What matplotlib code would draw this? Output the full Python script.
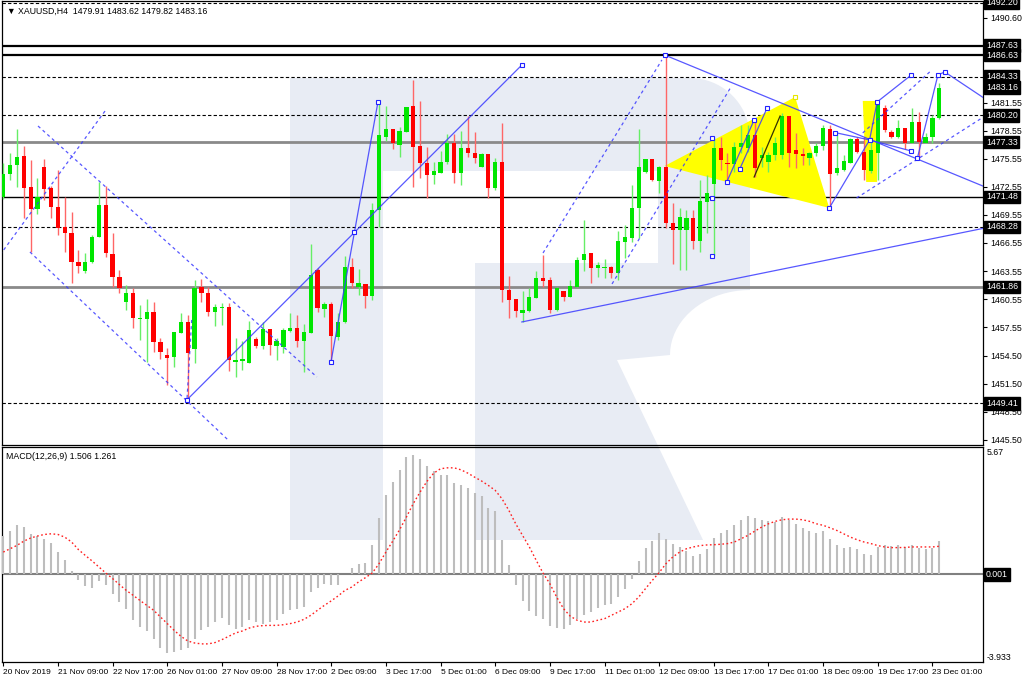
import matplotlib
matplotlib.use("Agg")
import matplotlib.pyplot as plt
from matplotlib.patches import Polygon, Rectangle
import numpy as np

plt.rcParams['font.family'] = ['Liberation Sans', 'DejaVu Sans']

# ---------------- data ----------------
opens = [
1471.47, 1473.92, 1474.89, 1475.85, 1472.54, 1470.18, 1474.67, 1472.43, 1470.40, 1468.26,
1467.62, 1464.52, 1463.56, 1464.52, 1467.19, 1470.61, 1465.38, 1462.92, 1460.25, 1461.21,
1458.43, 1458.43, 1459.18, 1455.97, 1454.58, 1454.37, 1456.93, 1458.11, 1455.22, 1461.85,
1461.21, 1459.18, 1459.60, 1459.71, 1453.83, 1453.94, 1453.73, 1456.29, 1455.54, 1457.36,
1455.54, 1455.44, 1457.15, 1457.47, 1456.08, 1456.93, 1463.67, 1459.50, 1460.03, 1456.51,
1458.11, 1463.99, 1461.85, 1462.17, 1460.89, 1470.08, 1477.88, 1478.73, 1477.02, 1478.41,
1481.19, 1476.92, 1475.10, 1473.82, 1474.03, 1475.21, 1477.24, 1474.03, 1476.70, 1476.17,
1474.67, 1476.06, 1472.43, 1475.21, 1461.53, 1460.57, 1459.07, 1459.28, 1460.67, 1462.81,
1462.60, 1459.39, 1461.42, 1460.78, 1461.85, 1464.73, 1465.48, 1463.88, 1463.88, 1463.99,
1463.34, 1466.66, 1467.08, 1470.29, 1474.14, 1475.53, 1473.18, 1474.67, 1468.69, 1467.94,
1467.94, 1469.22, 1466.76, 1470.93, 1472.86, 1476.70, 1475.10, 1474.99, 1476.81, 1476.70,
1478.09, 1475.63, 1475.21, 1475.96, 1475.96, 1480.12, 1476.49, 1476.06, 1475.63, 1476.17,
1476.92, 1478.73, 1474.03, 1474.35, 1475.10, 1477.66, 1476.28, 1474.25, 1476.17, 1480.98,
1478.41, 1477.88, 1478.84, 1477.24, 1479.48, 1477.24, 1477.88, 1479.91]
highs = [
1475.10, 1476.17, 1478.73, 1476.92, 1475.42, 1473.50, 1475.53, 1472.64, 1474.35, 1471.47,
1469.86, 1465.80, 1465.48, 1467.41, 1473.07, 1472.64, 1467.62, 1463.67, 1462.06, 1461.74,
1459.92, 1460.57, 1460.25, 1456.40, 1455.33, 1457.04, 1459.07, 1458.86, 1462.60, 1462.70,
1461.85, 1460.03, 1460.14, 1460.14, 1456.40, 1456.08, 1458.21, 1456.51, 1458.11, 1457.36,
1456.40, 1457.47, 1459.07, 1458.86, 1457.89, 1466.44, 1463.88, 1460.25, 1460.25, 1459.07,
1465.16, 1464.95, 1463.77, 1462.17, 1470.83, 1481.62, 1481.19, 1478.73, 1478.95, 1481.09,
1483.97, 1481.73, 1476.81, 1475.21, 1476.38, 1478.20, 1478.20, 1478.52, 1480.12, 1478.41,
1476.17, 1476.06, 1475.63, 1479.37, 1463.02, 1460.57, 1461.42, 1461.74, 1463.56, 1465.27,
1462.92, 1461.85, 1461.42, 1462.60, 1465.05, 1469.01, 1465.48, 1464.52, 1464.84, 1464.09,
1467.83, 1468.47, 1472.75, 1478.73, 1475.53, 1475.53, 1474.78, 1486.63, 1470.83, 1470.29,
1470.08, 1470.08, 1473.28, 1473.82, 1477.88, 1477.88, 1476.17, 1477.34, 1479.16, 1479.16,
1479.70, 1476.81, 1476.28, 1477.88, 1480.44, 1480.12, 1478.31, 1476.70, 1476.28, 1477.24,
1479.16, 1479.16, 1478.31, 1475.96, 1477.77, 1477.88, 1477.88, 1477.88, 1481.83, 1481.30,
1478.63, 1479.70, 1478.84, 1480.98, 1480.55, 1478.31, 1480.23, 1483.62]
lows = [
1471.30, 1473.28, 1472.54, 1469.22, 1465.59, 1469.65, 1471.15, 1469.22, 1467.41, 1465.59,
1462.28, 1463.34, 1463.34, 1464.41, 1467.19, 1465.05, 1461.85, 1461.21, 1459.39, 1457.47,
1456.18, 1453.83, 1454.90, 1454.15, 1451.38, 1453.30, 1456.93, 1449.45, 1453.73, 1460.25,
1458.75, 1457.68, 1457.79, 1452.87, 1452.23, 1452.98, 1453.73, 1455.33, 1455.22, 1454.58,
1454.05, 1454.79, 1457.04, 1455.44, 1452.76, 1456.93, 1459.18, 1458.64, 1453.83, 1456.18,
1458.00, 1461.74, 1460.99, 1459.60, 1460.46, 1468.26, 1477.45, 1476.60, 1475.74, 1478.41,
1472.54, 1473.50, 1471.36, 1472.86, 1474.03, 1474.99, 1472.96, 1472.75, 1475.74, 1475.10,
1474.67, 1471.36, 1472.21, 1460.25, 1458.54, 1458.64, 1458.10, 1459.18, 1460.67, 1461.85,
1459.07, 1459.28, 1460.35, 1460.78, 1461.85, 1463.56, 1462.28, 1462.92, 1462.81, 1462.81,
1462.60, 1464.95, 1466.66, 1467.08, 1474.03, 1473.18, 1471.89, 1468.15, 1464.31, 1463.67,
1463.67, 1465.91, 1465.59, 1467.62, 1465.16, 1474.35, 1473.28, 1474.14, 1476.17, 1476.28,
1473.60, 1474.67, 1474.14, 1475.42, 1475.53, 1474.67, 1474.57, 1474.89, 1474.89, 1475.85,
1476.49, 1470.40, 1473.82, 1474.25, 1475.10, 1476.17, 1473.28, 1474.03, 1473.28, 1478.41,
1477.77, 1477.77, 1476.60, 1477.24, 1475.63, 1477.24, 1477.24, 1479.82]
closes = [
1473.92, 1474.89, 1475.74, 1472.43, 1470.18, 1471.47, 1472.32, 1470.40, 1468.15, 1467.62,
1464.52, 1464.09, 1464.52, 1467.19, 1470.61, 1465.48, 1462.92, 1461.74, 1461.21, 1458.54,
1458.54, 1459.18, 1455.97, 1454.90, 1454.26, 1457.04, 1458.11, 1454.79, 1461.74, 1461.21,
1459.18, 1459.71, 1459.71, 1454.05, 1454.05, 1454.15, 1457.25, 1455.54, 1457.36, 1455.65,
1456.08, 1457.25, 1457.47, 1456.08, 1457.04, 1463.13, 1459.60, 1460.03, 1456.61, 1458.11,
1463.99, 1462.28, 1462.28, 1460.89, 1470.08, 1478.09, 1478.73, 1477.24, 1478.52, 1481.09,
1476.81, 1475.10, 1473.82, 1474.25, 1475.21, 1477.24, 1474.03, 1476.70, 1476.17, 1475.63,
1476.06, 1472.43, 1475.21, 1461.53, 1460.46, 1459.28, 1459.39, 1460.78, 1462.81, 1462.49,
1459.39, 1461.74, 1460.78, 1461.96, 1464.73, 1465.38, 1463.88, 1464.20, 1463.99, 1463.34,
1466.76, 1467.19, 1470.29, 1474.67, 1475.53, 1473.28, 1474.67, 1468.69, 1467.94, 1469.33,
1469.22, 1466.76, 1471.04, 1471.89, 1476.70, 1475.42, 1474.99, 1476.81, 1477.24, 1478.09,
1474.57, 1475.96, 1475.96, 1477.24, 1480.12, 1476.17, 1476.06, 1475.85, 1476.17, 1476.92,
1478.84, 1473.92, 1474.57, 1475.31, 1477.66, 1476.28, 1474.35, 1476.49, 1481.62, 1478.63,
1477.88, 1478.84, 1477.24, 1479.48, 1477.34, 1477.88, 1479.91, 1483.16]

macd_hist = [
1.70, 1.94, 2.20, 2.12, 1.82, 1.70, 1.60, 1.40, 1.00, 0.66,
0.13, -0.24, -0.54, -0.60, -0.30, -0.49, -0.90, -1.24, -1.57, -2.03,
-2.36, -2.54, -2.88, -3.29, -3.53, -3.48, -3.38, -3.29, -2.88, -2.51,
-2.36, -2.14, -1.94, -2.29, -2.44, -2.36, -2.03, -2.14, -2.21, -2.14,
-2.03, -1.79, -1.61, -1.54, -1.46, -0.79, -0.60, -0.42, -0.49, -0.47,
0.02, 0.28, 0.48, 0.52, 1.33, 2.54, 3.54, 4.14, 4.69, 5.26,
5.34, 5.16, 4.86, 4.62, 4.44, 4.47, 4.10, 4.02, 3.87, 3.65,
3.50, 2.99, 2.84, 1.55, 0.43, -0.49, -1.20, -1.64, -1.87, -2.02,
-2.33, -2.41, -2.47, -2.29, -2.02, -1.84, -1.69, -1.51, -1.39, -1.32,
-1.02, -0.67, -0.19, 0.58, 1.18, 1.49, 1.85, 1.60, 1.38, 1.23,
1.05, 0.81, 0.93, 1.15, 1.63, 1.85, 2.00, 2.23, 2.42, 2.63,
2.54, 2.45, 2.39, 2.35, 2.59, 2.45, 2.27, 2.08, 1.93, 1.85,
1.93, 1.58, 1.33, 1.18, 1.23, 1.15, 0.93, 0.88, 1.23, 1.33,
1.26, 1.33, 1.23, 1.33, 1.18, 1.14, 1.20, 1.51]
macd_signal = [
1.00, 1.15, 1.30, 1.49, 1.63, 1.72, 1.79, 1.82, 1.79, 1.67,
1.45, 1.11, 0.85, 0.60, 0.33, 0.06, -0.19, -0.46, -0.72, -0.94,
-1.17, -1.39, -1.61, -1.91, -2.21, -2.51, -2.78, -2.99, -3.08, -3.12,
-3.12, -3.06, -2.93, -2.78, -2.63, -2.54, -2.41, -2.33, -2.30, -2.29,
-2.29, -2.26, -2.21, -2.14, -2.02, -1.84, -1.61, -1.39, -1.19, -0.97,
-0.72, -0.57, -0.34, -0.15, 0.06, 0.48, 1.00, 1.49, 2.00, 2.57,
3.17, 3.69, 4.17, 4.54, 4.74, 4.78, 4.78, 4.69, 4.54, 4.36,
4.19, 3.99, 3.77, 3.39, 2.87, 2.27, 1.75, 1.23, 0.63, 0.06,
-0.42, -1.02, -1.54, -1.88, -2.06, -2.14, -2.14, -2.06, -1.99, -1.84,
-1.69, -1.54, -1.32, -1.02, -0.64, -0.27, 0.08, 0.48, 0.78, 1.00,
1.15, 1.23, 1.29, 1.32, 1.33, 1.35, 1.38, 1.45, 1.60, 1.75,
1.94, 2.12, 2.27, 2.38, 2.45, 2.48, 2.48, 2.45, 2.38, 2.27,
2.20, 2.09, 1.97, 1.82, 1.67, 1.55, 1.45, 1.38, 1.29, 1.23,
1.20, 1.20, 1.21, 1.23, 1.23, 1.23, 1.23, 1.26]

time_labels = ["20 Nov 2019", "21 Nov 09:00", "22 Nov 17:00", "26 Nov 01:00", "27 Nov 09:00",
               "28 Nov 17:00", "2 Dec 09:00", "3 Dec 17:00", "5 Dec 01:00", "6 Dec 09:00",
               "9 Dec 17:00", "11 Dec 01:00", "12 Dec 09:00", "13 Dec 17:00", "17 Dec 01:00",
               "18 Dec 09:00", "19 Dec 17:00", "23 Dec 01:00"]
label_step = 8

price_ticks = [1490.60, 1481.55, 1478.55, 1475.55, 1472.55, 1469.55, 1466.55, 1463.55,
               1460.55, 1457.55, 1454.50, 1451.50, 1448.50, 1445.50]
boxed_levels = [1492.20, 1487.63, 1486.63, 1484.33, 1483.16, 1480.20, 1477.33, 1471.48,
                1468.28, 1461.86, 1449.41]

hlines_dashed = [1492.20, 1484.33, 1480.20, 1468.28, 1449.41]
hlines_black = [1487.63, 1486.63]
hlines_thin = [1471.48]
hlines_gray = [1477.33, 1461.86]

# analysis objects as (bar index, price) anchors
solid_lines = [
    [(26.9, 1449.8), (75.9, 1485.57)],
    [(47.96, 1453.83), (54.84, 1481.62)],
    [(96.8, 1486.64), (143.7, 1472.54)],
    [(137.8, 1484.83), (144.4, 1481.62)],
    [(75.9, 1458.11), (143.7, 1468.15)],
    [(105.9, 1473.07), (109.9, 1479.70)],
    [(107.8, 1474.46), (111.8, 1480.98)],
    [(120.9, 1470.29), (126.8, 1477.56), (127.9, 1481.62), (132.9, 1484.50)],
    [(121.8, 1478.34), (126.8, 1477.56), (132.9, 1476.38)],
    [(133.8, 1475.63), (136.8, 1484.50), (137.8, 1484.83)],
]
black_lines = [[(109.9, 1473.60), (113.7, 1480.12)]]
dashed_lines = [
    [(5.08, 1479.05), (45.9, 1452.23)],
    [(3.9, 1465.59), (32.9, 1445.50)],
    [(-0.48, 1465.27), (15.0, 1480.76)],
    [(26.9, 1449.99), (27.6, 1458.64)],
    [(79.0, 1465.48), (96.4, 1486.11)],
    [(89.1, 1462.17), (106.6, 1483.33)],
    [(124.9, 1471.36), (143.7, 1480.12)],
    [(125.8, 1478.31), (135.6, 1484.83)],
]
marker_pts = [(26.9, 1449.8), (75.9, 1485.57), (47.96, 1453.83), (51.3, 1467.73),
              (54.84, 1481.62), (96.8, 1486.64), (105.9, 1473.07), (107.8, 1474.46),
              (109.9, 1479.70), (111.8, 1480.98), (120.9, 1470.29), (121.8, 1478.34),
              (126.8, 1477.56), (127.9, 1481.62), (132.9, 1484.50), (132.9, 1476.38),
              (133.8, 1475.63), (136.8, 1484.50), (137.8, 1484.83),
              (103.7, 1477.8), (103.7, 1471.4), (103.7, 1465.2)]
yellow_tri = [(96.8, 1474.78), (115.9, 1482.15), (120.9, 1470.29)]
yellow_quad = [(125.8, 1481.73), (128.0, 1481.73), (127.9, 1473.07), (126.3, 1473.07)]

# ---------------- figure ----------------
W, H = 1024, 683
FS = 6.3
fig = plt.figure(figsize=(W / 100, H / 100), dpi=100)
fig.patch.set_facecolor("white")

def frame(x0, y0, x1, y1):
    return [x0 / W, 1 - y1 / H, (x1 - x0) / W, (y1 - y0) / H]

# background watermark (pixel space)
bg = fig.add_axes([0, 0, 1, 1], zorder=0)
bg.set_xlim(0, W); bg.set_ylim(H, 0); bg.axis("off")
wm = "#e8ecf4"
bg.add_patch(Rectangle((290, 78), 93, 462, color=wm, lw=0))
t = np.linspace(0, np.pi / 2, 20)
outer = [(383, 78), (690, 78)]
outer += [(690 + 60 * np.sin(a), 138 - 60 * np.cos(a)) for a in t]
outer += [(750, 290)]
outer += [(750 - 80 * np.sin(a), 290 + 65 * (1 - np.cos(a))) for a in t]
outer += [(617, 360), (703, 540), (475, 540), (475, 263), (658, 263), (658, 171), (383, 171)]
bg.add_patch(Polygon(outer, closed=True, color=wm, lw=0))

ax = fig.add_axes(frame(2, 1, 983, 445), zorder=1)
ax2 = fig.add_axes(frame(2, 447, 983, 662), zorder=1)
for a in (ax, ax2):
    a.set_facecolor("none")
    for s in a.spines.values():
        s.set_color("black"); s.set_linewidth(0.9)

n = len(opens)
x = np.arange(n)
XMIN, XMAX = -0.19, 143.4
ax.set_xlim(XMIN, XMAX); ax2.set_xlim(XMIN, XMAX)
ax.set_ylim(1444.96, 1492.41)
ax2.set_ylim(-3.933, 5.715)

for p in hlines_dashed:
    ax.axhline(p, color="black", lw=0.8, ls=(0, (3, 2)), zorder=2)
for p in hlines_black:
    ax.axhline(p, color="black", lw=1.6, zorder=2)
for p in hlines_thin:
    ax.axhline(p, color="black", lw=1.0, zorder=2)
for p in hlines_gray:
    ax.axhline(p, color="#8a8a8a", lw=2.0, zorder=2)

ax.add_patch(Polygon(yellow_tri, closed=True, color="#ffff00", lw=0, zorder=2.5))
ax.add_patch(Polygon(yellow_quad, closed=True, color="#ffff00", lw=0, zorder=2.5))

o = np.array(opens); h = np.array(highs); l = np.array(lows); c = np.array(closes)
up = c >= o
col = np.where(up, "#00e600", "#ff0000")
wcol = np.where(up, "#66ee66", "#ff6666")
ax.vlines(x, l, h, colors=wcol, lw=1.0, zorder=3)
body_bot = np.minimum(o, c)
body_h = np.maximum(np.abs(c - o), 0.12)
ax.bar(x, body_h, bottom=body_bot, width=0.62, color=col, lw=0, zorder=4)

for pts in solid_lines:
    xs, ys = zip(*pts)
    ax.plot(xs, ys, color="#3a3aff", lw=0.9, zorder=5, alpha=0.85)
for pts in black_lines:
    xs, ys = zip(*pts)
    ax.plot(xs, ys, color="#333300", lw=0.9, zorder=5)
for pts in dashed_lines:
    xs, ys = zip(*pts)
    ax.plot(xs, ys, color="#3a3aff", lw=0.9, ls=(0, (2.5, 2.5)), zorder=5, alpha=0.85)
mx, my = zip(*marker_pts)
ax.plot(mx, my, ls="none", marker="s", ms=3.5, mfc="white", mec="#2222ff", mew=0.8, zorder=6)
ax.plot([yellow_tri[1][0]], [yellow_tri[1][1]], ls="none", marker="s", ms=3.5,
        mfc="white", mec="#e6e600", mew=0.8, zorder=6)

ax.set_xticks([])
ax.yaxis.tick_right()
ax.set_yticks(price_ticks)
ax.set_yticklabels([f"{v:.2f}" for v in price_ticks])
ax.tick_params(axis="y", direction="out", length=3, width=0.8, pad=2, labelsize=FS)

for p in boxed_levels:
    ax.text(1.0 + 3 / 981, p, f"{p:.2f}", transform=ax.get_yaxis_transform(),
            ha="left", va="center", fontsize=FS, color="white", clip_on=False,
            bbox=dict(boxstyle="square,pad=0.2", fc="black", ec="black"))

ax.text(5 / 981, 0.988, "\u25bc XAUUSD,H4  1479.91 1483.62 1479.82 1483.16",
        transform=ax.transAxes, ha="left", va="top", fontsize=FS, color="black")

# MACD
ax2.vlines(x, 0, macd_hist, colors="#bdbdbd", lw=1.5, zorder=3)
ax2.axhline(0.001, color="#808080", lw=1.5, zorder=2)
ax2.plot(x, macd_signal, color="#ff2020", lw=1.0, ls=(0, (1.2, 1.8)), zorder=4)
ax2.set_yticks([])
ax2.text(4 / 981, 0.975, "MACD(12,26,9) 1.506 1.261", transform=ax2.transAxes,
         ha="left", va="top", fontsize=FS)
ax2.text(1.0 + 4 / 981, 5.67, "5.67", transform=ax2.get_yaxis_transform(),
         ha="left", va="top", fontsize=FS, clip_on=False)
ax2.text(1.0 + 4 / 981, -3.933, "-3.933", transform=ax2.get_yaxis_transform(),
         ha="left", va="bottom", fontsize=FS, clip_on=False)
ax2.text(1.0 + 3 / 981, 0.001, "0.001", transform=ax2.get_yaxis_transform(),
         ha="left", va="center", fontsize=FS, color="white", clip_on=False,
         bbox=dict(boxstyle="square,pad=0.2", fc="black", ec="black"))
ax2.tick_params(axis="y", right=False, left=False)

pos = [i * label_step for i in range(len(time_labels))]
ax2.set_xticks(pos)
ax2.set_xticklabels(time_labels)
for lab in ax2.get_xticklabels():
    lab.set_ha("left")
ax2.tick_params(axis="x", direction="out", length=3, width=0.8, pad=2, labelsize=6.0)

fig.savefig("out.png", dpi=100, facecolor="white")
